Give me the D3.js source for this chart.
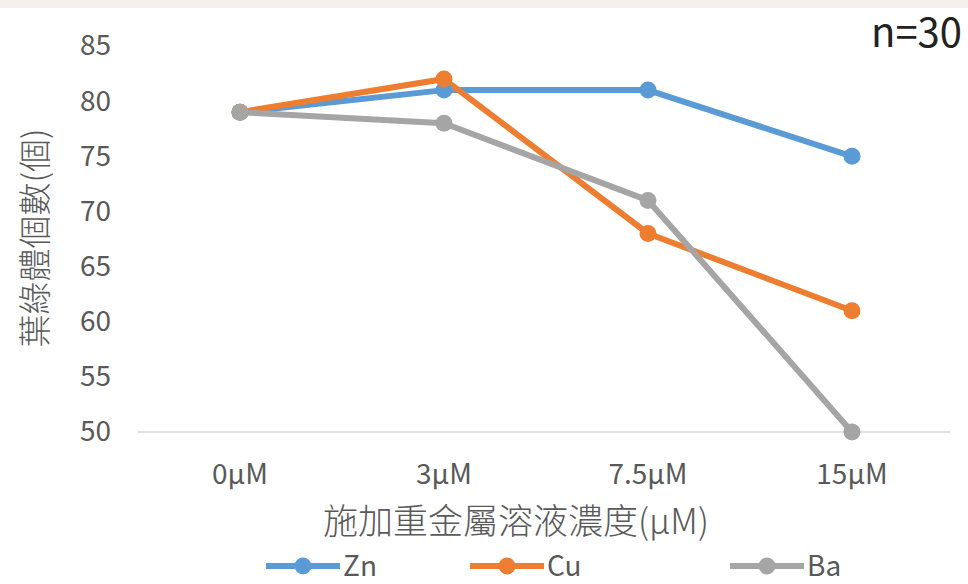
<!DOCTYPE html>
<html>
<head>
<meta charset="utf-8">
<script src="https://cdn.jsdelivr.net/npm/d3@7"></script>
<style>
  html, body { margin: 0; padding: 0; background: #ffffff; }
  svg { display: block; }
  text { font-family: "Noto Sans CJK TC", "Noto Sans", sans-serif; }
</style>
</head>
<body>
<svg id="chart" width="968" height="584"></svg>
<script>
// Concentrations applied and chloroplast counts per treatment
const categories = ["0μM", "3μM", "7.5μM", "15μM"];
const zn = [79, 81, 81, 75];
const cu = [79, 82, 68, 61];
const ba = [79, 78, 71, 50];
const seriesNames = ["Zn", "Cu", "Ba"];
const seriesColors = ["#5b9bd5", "#ed7d31", "#a5a5a5"];
const yTicks = [50, 55, 60, 65, 70, 75, 80, 85];

const series = [zn, cu, ba].map((values, i) => ({
  name: seriesNames[i], color: seriesColors[i], values
}));

const svg = d3.select("#chart");
const W = 968;
const latin = "'Open Sans', sans-serif";

// top band of the page background
svg.append("rect").attr("x", 0).attr("y", 0).attr("width", W).attr("height", 8)
  .attr("fill", "#f3f0eb");

const x = d3.scaleBand().domain(categories).range([138, 954]);
const y = d3.scaleLinear().domain([50, 85]).range([432, 46]);

// baseline
svg.append("line")
  .attr("x1", 138).attr("x2", 950)
  .attr("y1", y(50)).attr("y2", y(50))
  .attr("stroke", "#d9d9d9").attr("stroke-width", 1.5);

// y axis labels
const yAxis = d3.axisLeft(y).tickValues(yTicks).tickSize(0).tickPadding(0);
const gy = svg.append("g").attr("transform", "translate(111,0)").call(yAxis);
gy.select(".domain").remove();
gy.selectAll("text").attr("fill", "#595959").attr("font-size", 28)
  .attr("font-family", latin);

// x axis labels
const xAxis = d3.axisBottom(x).tickSize(0).tickPadding(0);
const gx = svg.append("g").attr("transform", "translate(0,464)").call(xAxis);
gx.select(".domain").remove();
gx.selectAll("text").attr("fill", "#595959").attr("font-size", 28)
  .attr("font-family", latin);

// lines and markers
const cx = (d, i) => x(categories[i]) + x.bandwidth() / 2;
const line = d3.line().x(cx).y(d => y(d));

series.forEach(s => {
  svg.append("path").datum(s.values)
    .attr("d", line)
    .attr("fill", "none")
    .attr("stroke", s.color)
    .attr("stroke-width", 6)
    .attr("stroke-linejoin", "round");
});
series.forEach(s => {
  svg.append("g").selectAll("circle").data(s.values).join("circle")
    .attr("cx", cx)
    .attr("cy", d => y(d))
    .attr("r", 8.5)
    .attr("fill", s.color);
});

// axis titles
svg.append("text")
  .attr("transform", "translate(33,238) rotate(-90)")
  .attr("text-anchor", "middle")
  .attr("dominant-baseline", "central")
  .attr("fill", "#595959").attr("font-size", 33)
  .attr("font-weight", 300)
  .text("葉綠體個數(個)");

svg.append("text")
  .attr("x", 516).attr("y", 518)
  .attr("text-anchor", "middle")
  .attr("dominant-baseline", "central")
  .attr("fill", "#595959").attr("font-size", 35)
  .attr("font-weight", 300)
  .text("施加重金屬溶液濃度(μM)");

// sample size note
svg.append("text")
  .attr("x", 962).attr("y", 47)
  .attr("text-anchor", "end")
  .attr("fill", "#222222").attr("font-size", 40)
  .attr("font-family", latin)
  .text("n=30");

// legend
const legendX = [266, 470, 730];
series.forEach((s, i) => {
  const g = svg.append("g").attr("transform", `translate(${legendX[i]},566)`);
  g.append("line").attr("x1", 0).attr("x2", 74).attr("y1", 0).attr("y2", 0)
    .attr("stroke", s.color).attr("stroke-width", 6);
  g.append("circle").attr("cx", 37).attr("cy", 0).attr("r", 8.5).attr("fill", s.color);
  g.append("text").attr("x", 77).attr("y", 0).attr("dy", "0.36em")
    .attr("fill", "#595959").attr("font-size", 28)
    .attr("font-family", latin)
    .text(s.name);
});
</script>
</body>
</html>
